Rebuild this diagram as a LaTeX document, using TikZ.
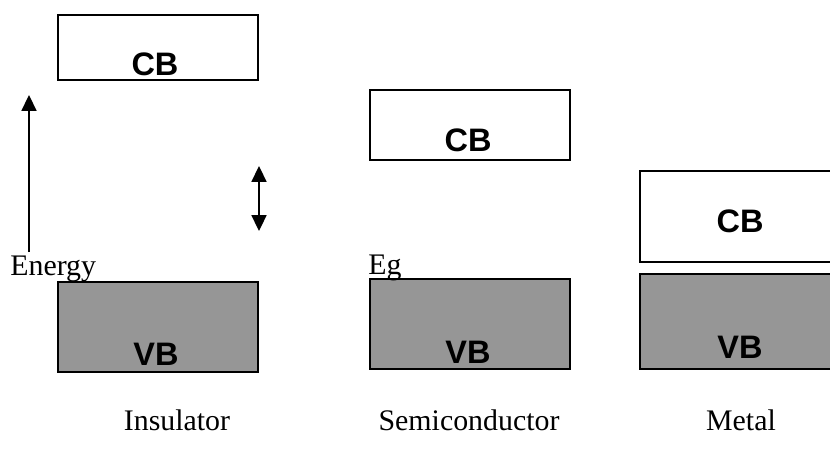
\documentclass[tikz,border=0pt]{standalone}
\usepackage{fontspec}
\setmainfont{Liberation Serif}
\setsansfont{Liberation Sans}
\usetikzlibrary{arrows.meta, positioning}
\definecolor{vbgray}{RGB}{150,150,150}

\begin{document}
\begin{tikzpicture}[
    x=0.02cm, y=-0.02cm,
    band/.style={draw, line width=1pt, rectangle, inner sep=0pt, anchor=north west, minimum width=4cm},
    cband/.style={band, fill=white},
    vband/.style={band, fill=vbgray},
    bandlabel/.style={font=\sffamily\bfseries\fontsize{18.5}{20}\selectfont, anchor=base, inner sep=0pt},
    caption/.style={font=\fontsize{17}{19}\selectfont, inner sep=0pt},
    arrow/.style={-{Triangle[length=9pt,width=8.5pt]}, line width=1pt}
]
\useasboundingbox (0,0) rectangle (830,451);
\clip (0,0) rectangle (830,451);

% Insulator
\node[cband, minimum height=1.3cm] (inscb) at (57,14) {};
\node[vband, minimum height=1.8cm] (insvb) at (57,281) {};
\node[bandlabel] (inscbl) at (155,75) {CB};
\node[bandlabel] (insvbl) at (156,365) {VB};
\node[caption, anchor=base] (insname) at (177,430) {Insulator};

% Semiconductor
\node[cband, minimum height=1.4cm] (semicb) at (369,89) {};
\node[vband, minimum height=1.8cm] (semivb) at (369,278) {};
\node[bandlabel] (semicbl) at (468,151) {CB};
\node[bandlabel] (semivbl) at (468,363) {VB};
\node[caption, anchor=base] (seminame) at (469,430) {Semiconductor};

% Metal
\node[cband, minimum height=1.82cm] (metcb) at (639,170) {};
\node[vband, minimum height=1.9cm] (metvb) at (639,273) {};
\node[bandlabel] (metcbl) at (740,232) {CB};
\node[bandlabel] (metvbl) at (740,358) {VB};
\node[caption, anchor=base] (metname) at (741,430) {Metal};

% Energy axis and gap
\node[caption, anchor=base west] (energy) at (10,275) {Energy};
\node[caption, anchor=base west] (eg) at (368,274) {Eg};
\coordinate (ebot) at (29,252);
\coordinate (etop) at (29,95);
\coordinate (gaptop) at (259,166);
\coordinate (gapbot) at (259,231);

\draw[arrow] (ebot) -- (etop);
\draw[arrow, {Triangle[length=9pt,width=8.5pt]}-{Triangle[length=9pt,width=8.5pt]}] (gaptop) -- (gapbot);
\end{tikzpicture}
\end{document}
